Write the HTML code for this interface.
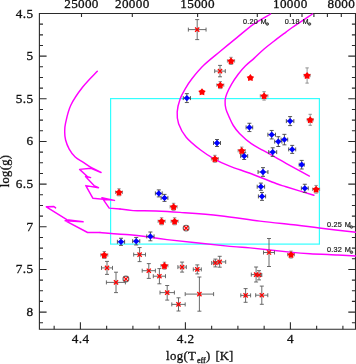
<!DOCTYPE html>
<html><head><meta charset="utf-8"><style>
html,body{margin:0;padding:0;background:#fff;}
svg{display:block;will-change:transform;}
</style></head><body>
<svg width="356" height="364" viewBox="0 0 356 364">
<rect width="356" height="364" fill="#fff"/>
<path d="M39.4,13.5 H355.5 V329.2 H39.4 Z" fill="none" stroke="#2a2a2a" stroke-width="1.1"/>
<path d="M39.4,13.50h7.2 M355.5,13.50h-7.2 M39.4,24.16h3.6 M355.5,24.16h-3.6 M39.4,34.83h3.6 M355.5,34.83h-3.6 M39.4,45.49h3.6 M355.5,45.49h-3.6 M39.4,56.16h7.2 M355.5,56.16h-7.2 M39.4,66.82h3.6 M355.5,66.82h-3.6 M39.4,77.48h3.6 M355.5,77.48h-3.6 M39.4,88.15h3.6 M355.5,88.15h-3.6 M39.4,98.81h7.2 M355.5,98.81h-7.2 M39.4,109.47h3.6 M355.5,109.47h-3.6 M39.4,120.14h3.6 M355.5,120.14h-3.6 M39.4,130.80h3.6 M355.5,130.80h-3.6 M39.4,141.47h7.2 M355.5,141.47h-7.2 M39.4,152.13h3.6 M355.5,152.13h-3.6 M39.4,162.79h3.6 M355.5,162.79h-3.6 M39.4,173.46h3.6 M355.5,173.46h-3.6 M39.4,184.12h7.2 M355.5,184.12h-7.2 M39.4,194.78h3.6 M355.5,194.78h-3.6 M39.4,205.45h3.6 M355.5,205.45h-3.6 M39.4,216.11h3.6 M355.5,216.11h-3.6 M39.4,226.78h7.2 M355.5,226.78h-7.2 M39.4,237.44h3.6 M355.5,237.44h-3.6 M39.4,248.10h3.6 M355.5,248.10h-3.6 M39.4,258.77h3.6 M355.5,258.77h-3.6 M39.4,269.43h7.2 M355.5,269.43h-7.2 M39.4,280.09h3.6 M355.5,280.09h-3.6 M39.4,290.76h3.6 M355.5,290.76h-3.6 M39.4,301.42h3.6 M355.5,301.42h-3.6 M39.4,312.09h7.2 M355.5,312.09h-7.2 M39.4,322.75h3.6 M355.5,322.75h-3.6 M54.15,329.2v-3.5 M80.40,329.2v-7.0 M106.65,329.2v-3.5 M132.90,329.2v-3.5 M159.15,329.2v-3.5 M185.40,329.2v-7.0 M211.65,329.2v-3.5 M237.90,329.2v-3.5 M264.15,329.2v-3.5 M290.40,329.2v-7.0 M316.65,329.2v-3.5 M342.90,329.2v-3.5 M81.50,13.5v3.4 M132.30,13.5v3.4 M197.60,13.5v3.4 M257.30,13.5v3.4 M290.40,13.5v3.4 M302.00,13.5v3.4 M313.90,13.5v3.4 M327.40,13.5v3.4 M341.30,13.5v3.4" fill="none" stroke="#2a2a2a" stroke-width="1.1"/>
<text x="33.7" y="17.5" font-family='"Liberation Serif", serif' font-size="13.2" text-anchor="end" fill="#111" stroke="#111" stroke-width="0.3" letter-spacing="0.5">4.5</text>
<text x="33.7" y="60.155" font-family='"Liberation Serif", serif' font-size="13.2" text-anchor="end" fill="#111" stroke="#111" stroke-width="0.3" letter-spacing="0.5">5</text>
<text x="33.7" y="102.81" font-family='"Liberation Serif", serif' font-size="13.2" text-anchor="end" fill="#111" stroke="#111" stroke-width="0.3" letter-spacing="0.5">5.5</text>
<text x="33.7" y="145.465" font-family='"Liberation Serif", serif' font-size="13.2" text-anchor="end" fill="#111" stroke="#111" stroke-width="0.3" letter-spacing="0.5">6</text>
<text x="33.7" y="188.12" font-family='"Liberation Serif", serif' font-size="13.2" text-anchor="end" fill="#111" stroke="#111" stroke-width="0.3" letter-spacing="0.5">6.5</text>
<text x="33.7" y="230.775" font-family='"Liberation Serif", serif' font-size="13.2" text-anchor="end" fill="#111" stroke="#111" stroke-width="0.3" letter-spacing="0.5">7</text>
<text x="33.7" y="273.43" font-family='"Liberation Serif", serif' font-size="13.2" text-anchor="end" fill="#111" stroke="#111" stroke-width="0.3" letter-spacing="0.5">7.5</text>
<text x="33.7" y="316.08500000000004" font-family='"Liberation Serif", serif' font-size="13.2" text-anchor="end" fill="#111" stroke="#111" stroke-width="0.3" letter-spacing="0.5">8</text>
<text x="80.65" y="343.4" font-family='"Liberation Serif", serif' font-size="13.2" text-anchor="middle" fill="#111" stroke="#111" stroke-width="0.3" letter-spacing="0.5">4.4</text>
<text x="185.6500000000001" y="343.4" font-family='"Liberation Serif", serif' font-size="13.2" text-anchor="middle" fill="#111" stroke="#111" stroke-width="0.3" letter-spacing="0.5">4.2</text>
<text x="290.6500000000002" y="343.4" font-family='"Liberation Serif", serif' font-size="13.2" text-anchor="middle" fill="#111" stroke="#111" stroke-width="0.3" letter-spacing="0.5">4</text>
<text x="81.5" y="8.0" font-family='"Liberation Serif", serif' font-size="13.2" text-anchor="middle" fill="#111" stroke="#111" stroke-width="0.3" letter-spacing="0.3">25000</text>
<text x="132.3" y="8.0" font-family='"Liberation Serif", serif' font-size="13.2" text-anchor="middle" fill="#111" stroke="#111" stroke-width="0.3" letter-spacing="0.3">20000</text>
<text x="197.6" y="8.0" font-family='"Liberation Serif", serif' font-size="13.2" text-anchor="middle" fill="#111" stroke="#111" stroke-width="0.3" letter-spacing="0.3">15000</text>
<text x="290.3" y="8.0" font-family='"Liberation Serif", serif' font-size="13.2" text-anchor="middle" fill="#111" stroke="#111" stroke-width="0.3" letter-spacing="0.3">10000</text>
<text x="341.3" y="8.0" font-family='"Liberation Serif", serif' font-size="13.2" text-anchor="middle" fill="#111" stroke="#111" stroke-width="0.3" letter-spacing="0.3">8000</text>
<text x="166.0" y="360.2" font-family='"Liberation Serif", serif' font-size="12.8" fill="#111" stroke="#111" stroke-width="0.3" letter-spacing="0.35">log(T</text>
<text x="196.9" y="363.0" font-family='"Liberation Serif", serif' font-size="8.2" fill="#111" stroke="#111" stroke-width="0.3">eff</text>
<text x="206.0" y="360.2" font-family='"Liberation Serif", serif' font-size="12.8" fill="#111" stroke="#111" stroke-width="0.3">)</text>
<text x="215.6" y="360.2" font-family='"Liberation Serif", serif' font-size="12.8" fill="#111" stroke="#111" stroke-width="0.3" letter-spacing="0">[K]</text>
<text transform="translate(9.4,171.0) rotate(-90)" x="0" y="0" font-family='"Liberation Serif", serif' font-size="12.5" text-anchor="middle" fill="#111" stroke="#111" stroke-width="0.3" letter-spacing="0.35">log(g)</text>
<rect x="110.6" y="98.6" width="208.8" height="145.5" fill="none" stroke="#33ffff" stroke-width="1.2"/>
<path d="M270.60,14.00 C267.78,15.68 259.32,20.17 253.70,24.10 C248.08,28.03 242.42,33.12 236.90,37.60 C231.38,42.08 226.13,46.38 220.60,51.00 C215.07,55.62 208.48,60.67 203.70,65.30 C198.92,69.93 194.98,74.87 191.90,78.80 C188.82,82.73 187.17,85.53 185.20,88.90 C183.23,92.27 181.43,95.17 180.10,99.00 C178.77,102.83 177.45,107.78 177.20,111.90 C176.95,116.02 177.10,119.48 178.60,123.70 C180.10,127.92 182.53,132.82 186.20,137.20 C189.87,141.58 195.82,146.32 200.60,150.00 C205.38,153.68 210.05,156.62 214.90,159.30 C219.75,161.98 223.63,163.68 229.70,166.10 C235.77,168.52 243.58,170.90 251.30,173.80 C259.02,176.70 270.22,181.33 276.00,183.50 C281.78,185.67 279.68,184.85 286.00,186.80 C292.32,188.75 309.25,193.80 313.90,195.20" fill="none" stroke="#ff00ff" stroke-width="1.45" stroke-linecap="round"/>
<path d="M312.40,14.00 C309.03,16.25 296.60,24.48 292.20,27.50 C287.80,30.52 289.05,29.82 286.00,32.10 C282.95,34.38 277.55,38.38 273.90,41.20 C270.25,44.02 267.37,46.18 264.10,49.00 C260.83,51.82 257.43,55.27 254.30,58.10 C251.17,60.93 247.98,63.32 245.30,66.00 C242.62,68.68 240.48,71.18 238.20,74.20 C235.92,77.22 233.52,80.80 231.60,84.10 C229.68,87.40 227.78,91.25 226.70,94.00 C225.62,96.75 225.23,98.13 225.10,100.60 C224.97,103.07 225.22,106.05 225.90,108.80 C226.58,111.55 227.97,114.32 229.20,117.10 C230.43,119.88 231.58,122.77 233.30,125.50 C235.02,128.23 236.50,130.47 239.50,133.50 C242.50,136.53 247.37,140.88 251.30,143.70 C255.23,146.52 258.98,148.08 263.10,150.40 C267.22,152.72 272.18,155.43 276.00,157.60 C279.82,159.77 280.43,160.32 286.00,163.40 C291.57,166.48 305.50,173.98 309.40,176.10" fill="none" stroke="#ff00ff" stroke-width="1.45" stroke-linecap="round"/>
<path d="M97.30,71.20 C94.87,73.83 87.12,81.33 82.70,87.00 C78.28,92.67 73.65,99.22 70.80,105.20 C67.95,111.18 66.62,118.45 65.60,122.90 C64.58,127.35 64.70,129.05 64.70,131.90 C64.70,134.75 64.85,137.13 65.60,140.00 C66.35,142.87 67.60,146.27 69.20,149.10 C70.80,151.93 72.83,154.80 75.20,157.00 C77.57,159.20 80.77,160.55 83.40,162.30 C86.03,164.05 89.73,166.63 91.00,167.50" fill="none" stroke="#ff00ff" stroke-width="1.45" stroke-linecap="round"/>
<path d="M91.00,167.50 L101.10,172.50 L91.00,168.30 L79.60,169.40 L87.60,176.70 L90.60,177.60 L85.50,176.50 L94.00,185.60 L98.50,187.70 L85.80,185.60 L92.80,198.20 L114.50,200.40 L101.90,197.70 L109.20,208.10 L120.00,209.00" fill="none" stroke="#ff00ff" stroke-width="1.45" stroke-linejoin="round" stroke-linecap="round"/>
<path d="M120.00,209.00 C122.18,209.27 127.10,210.27 133.10,210.60 C139.10,210.93 148.18,210.70 156.00,211.00 C163.82,211.30 169.33,211.62 180.00,212.40 C190.67,213.18 206.67,214.25 220.00,215.70 C233.33,217.15 247.33,219.55 260.00,221.10 C272.67,222.65 286.12,223.85 296.00,225.00 C305.88,226.15 309.30,226.80 319.30,228.00 C329.30,229.20 349.88,231.50 356.00,232.20" fill="none" stroke="#ff00ff" stroke-width="1.45" stroke-linecap="round"/>
<path d="M55.60,207.90 L53.90,206.50 L46.30,206.80 L66.80,219.60 L83.10,221.80 L65.10,220.70 L87.60,232.50 L100.00,232.50" fill="none" stroke="#ff00ff" stroke-width="1.45" stroke-linejoin="round" stroke-linecap="round"/>
<path d="M100.00,232.50 C104.95,232.88 121.93,234.10 129.70,234.80 C137.47,235.50 140.38,235.90 146.60,236.70 C152.82,237.50 153.10,237.98 167.00,239.60 C180.90,241.22 216.17,245.02 230.00,246.40 C243.83,247.78 240.00,246.95 250.00,247.90 C260.00,248.85 280.00,251.13 290.00,252.10 C300.00,253.07 302.00,253.22 310.00,253.70 C318.00,254.18 330.33,254.62 338.00,255.00 C345.67,255.38 353.00,255.83 356.00,256.00" fill="none" stroke="#ff00ff" stroke-width="1.45" stroke-linecap="round"/>
<text x="242.9" y="24.2" font-family='"Liberation Sans", sans-serif' font-size="7.3" fill="#222" stroke="#222" stroke-width="0.2" letter-spacing="0.2">0.20</text>
<text x="260.5" y="24.2" font-family='"Liberation Sans", sans-serif' font-size="7.3" fill="#222" stroke="#222" stroke-width="0.2" letter-spacing="0.2">M</text>
<circle cx="267.3" cy="24.0" r="1.3" fill="#888" stroke="#333" stroke-width="0.8"/>
<text x="284.8" y="24.2" font-family='"Liberation Sans", sans-serif' font-size="7.3" fill="#222" stroke="#222" stroke-width="0.2" letter-spacing="0.2">0.18</text>
<text x="302.6" y="24.2" font-family='"Liberation Sans", sans-serif' font-size="7.3" fill="#222" stroke="#222" stroke-width="0.2" letter-spacing="0.2">M</text>
<circle cx="309.5" cy="24.0" r="1.3" fill="#888" stroke="#333" stroke-width="0.8"/>
<text x="327.0" y="227.0" font-family='"Liberation Sans", sans-serif' font-size="7.3" fill="#222" stroke="#222" stroke-width="0.2" letter-spacing="0.2">0.25</text>
<text x="344.7" y="227.0" font-family='"Liberation Sans", sans-serif' font-size="7.3" fill="#222" stroke="#222" stroke-width="0.2" letter-spacing="0.2">M</text>
<circle cx="351.5" cy="227.0" r="1.3" fill="#888" stroke="#333" stroke-width="0.8"/>
<text x="327.0" y="252.2" font-family='"Liberation Sans", sans-serif' font-size="7.3" fill="#222" stroke="#222" stroke-width="0.2" letter-spacing="0.2">0.32</text>
<text x="344.7" y="252.2" font-family='"Liberation Sans", sans-serif' font-size="7.3" fill="#222" stroke="#222" stroke-width="0.2" letter-spacing="0.2">M</text>
<circle cx="351.5" cy="252.2" r="1.3" fill="#888" stroke="#333" stroke-width="0.8"/>
<path d="M188.35,29.60H206.05 M197.20,19.60V39.60 M188.35,27.60v4.00 M206.05,27.60v4.00 M195.20,19.60h4.00 M195.20,39.60h4.00" fill="none" stroke="#5a5a5a" stroke-width="0.9"/>
<path d="M214.70,71.10H225.30 M220.00,65.40V76.80 M214.70,69.10v4.00 M225.30,69.10v4.00 M218.00,65.40h4.00 M218.00,76.80h4.00" fill="none" stroke="#5a5a5a" stroke-width="0.9"/>
<path d="M133.70,254.60H145.50 M139.60,247.55V261.60 M133.70,252.60v4.00 M145.50,252.60v4.00 M137.60,247.55h4.00 M137.60,261.60h4.00" fill="none" stroke="#5a5a5a" stroke-width="0.9"/>
<path d="M101.50,267.90H112.50 M107.00,261.40V274.40 M101.50,265.90v4.00 M112.50,265.90v4.00 M105.00,261.40h4.00 M105.00,274.40h4.00" fill="none" stroke="#5a5a5a" stroke-width="0.9"/>
<path d="M142.20,270.70H155.40 M148.80,263.60V278.40 M142.20,268.70v4.00 M155.40,268.70v4.00 M146.80,263.60h4.00 M146.80,278.40h4.00" fill="none" stroke="#5a5a5a" stroke-width="0.9"/>
<path d="M153.30,276.20H165.50 M159.40,268.60V283.80 M153.30,274.20v4.00 M165.50,274.20v4.00 M157.40,268.60h4.00 M157.40,283.80h4.00" fill="none" stroke="#5a5a5a" stroke-width="0.9"/>
<path d="M106.40,282.40H125.40 M116.00,272.20V292.60 M106.40,280.40v4.00 M125.40,280.40v4.00 M114.00,272.20h4.00 M114.00,292.60h4.00" fill="none" stroke="#5a5a5a" stroke-width="0.9"/>
<circle cx="125.9" cy="279.0" r="2.9" fill="none" stroke="#666" stroke-width="1.1"/>
<circle cx="186.1" cy="228.1" r="2.9" fill="none" stroke="#666" stroke-width="1.1"/>
<path d="M177.90,267.10H186.30 M182.10,262.10V272.10 M177.90,265.10v4.00 M186.30,265.10v4.00 M180.10,262.10h4.00 M180.10,272.10h4.00" fill="none" stroke="#5a5a5a" stroke-width="0.9"/>
<path d="M193.30,269.40H201.30 M197.30,264.90V273.90 M193.30,267.40v4.00 M201.30,267.40v4.00 M195.30,264.90h4.00 M195.30,273.90h4.00" fill="none" stroke="#5a5a5a" stroke-width="0.9"/>
<path d="M211.70,263.00H219.10 M215.40,259.10V266.90 M211.70,261.00v4.00 M219.10,261.00v4.00 M213.40,259.10h4.00 M213.40,266.90h4.00" fill="none" stroke="#5a5a5a" stroke-width="0.9"/>
<path d="M213.70,261.90H225.70 M219.70,256.30V267.20 M213.70,259.90v4.00 M225.70,259.90v4.00 M217.70,256.30h4.00 M217.70,267.20h4.00" fill="none" stroke="#5a5a5a" stroke-width="0.9"/>
<path d="M185.20,294.10H213.60 M199.40,277.00V311.20 M185.20,292.10v4.00 M213.60,292.10v4.00 M197.40,277.00h4.00 M197.40,311.20h4.00" fill="none" stroke="#5a5a5a" stroke-width="0.9"/>
<path d="M160.00,292.60H174.40 M167.20,285.50V300.10 M160.00,290.60v4.00 M174.40,290.60v4.00 M165.20,285.50h4.00 M165.20,300.10h4.00" fill="none" stroke="#5a5a5a" stroke-width="0.9"/>
<path d="M171.80,304.40H185.20 M178.50,297.80V311.00 M171.80,302.40v4.00 M185.20,302.40v4.00 M176.50,297.80h4.00 M176.50,311.00h4.00" fill="none" stroke="#5a5a5a" stroke-width="0.9"/>
<path d="M263.50,252.50H274.50 M269.00,238.50V266.50 M263.50,250.50v4.00 M274.50,250.50v4.00 M267.00,238.50h4.00 M267.00,266.50h4.00" fill="none" stroke="#5a5a5a" stroke-width="0.9"/>
<path d="M251.30,274.60H260.90 M256.10,267.00V282.00 M251.30,272.60v4.00 M260.90,272.60v4.00 M254.10,267.00h4.00 M254.10,282.00h4.00" fill="none" stroke="#5a5a5a" stroke-width="0.9"/>
<path d="M256.20,275.00H261.80 M259.00,270.70V279.90 M256.20,273.00v4.00 M261.80,273.00v4.00 M257.00,270.70h4.00 M257.00,279.90h4.00" fill="none" stroke="#5a5a5a" stroke-width="0.9"/>
<path d="M240.80,295.40H250.60 M245.60,288.60V302.30 M240.80,293.40v4.00 M250.60,293.40v4.00 M243.60,288.60h4.00 M243.60,302.30h4.00" fill="none" stroke="#5a5a5a" stroke-width="0.9"/>
<path d="M255.70,295.20H267.80 M261.80,286.10V304.30 M255.70,293.20v4.00 M267.80,293.20v4.00 M259.80,286.10h4.00 M259.80,304.30h4.00" fill="none" stroke="#5a5a5a" stroke-width="0.9"/>
<path d="M227.40,60.90H234.60 M231.00,57.30V64.50 M227.40,59.20v3.40 M234.60,59.20v3.40 M229.30,57.30h3.40 M229.30,64.50h3.40" fill="none" stroke="#888" stroke-width="0.9"/>
<path d="M216.80,85.10H223.80 M220.30,81.60V88.60 M216.80,83.40v3.40 M223.80,83.40v3.40 M218.60,81.60h3.40 M218.60,88.60h3.40" fill="none" stroke="#888" stroke-width="0.9"/>
<path d="M304.10,75.50H310.10 M307.10,67.90V83.10 M304.10,73.80v3.40 M310.10,73.80v3.40 M305.40,67.90h3.40 M305.40,83.10h3.40" fill="none" stroke="#888" stroke-width="0.9"/>
<path d="M260.30,95.90H267.90 M264.10,91.70V100.10 M260.30,94.20v3.40 M267.90,94.20v3.40 M262.40,91.70h3.40 M262.40,100.10h3.40" fill="none" stroke="#888" stroke-width="0.9"/>
<path d="M307.20,119.80H313.20 M310.20,114.30V125.30 M307.20,118.10v3.40 M313.20,118.10v3.40 M308.50,114.30h3.40 M308.50,125.30h3.40" fill="none" stroke="#888" stroke-width="0.9"/>
<path d="M238.10,150.70H245.30 M241.70,147.10V154.30 M238.10,149.00v3.40 M245.30,149.00v3.40 M240.00,147.10h3.40 M240.00,154.30h3.40" fill="none" stroke="#888" stroke-width="0.9"/>
<path d="M211.40,158.80H218.40 M214.90,155.30V162.30 M211.40,157.10v3.40 M218.40,157.10v3.40 M213.20,155.30h3.40 M213.20,162.30h3.40" fill="none" stroke="#888" stroke-width="0.9"/>
<path d="M312.60,189.30H319.60 M316.10,185.45V193.15 M312.60,187.60v3.40 M319.60,187.60v3.40 M314.40,185.45h3.40 M314.40,193.15h3.40" fill="none" stroke="#888" stroke-width="0.9"/>
<path d="M115.50,192.30H122.50 M119.00,188.80V195.80 M115.50,190.60v3.40 M122.50,190.60v3.40 M117.30,188.80h3.40 M117.30,195.80h3.40" fill="none" stroke="#888" stroke-width="0.9"/>
<path d="M170.10,206.80H177.10 M173.60,203.30V210.30 M170.10,205.10v3.40 M177.10,205.10v3.40 M171.90,203.30h3.40 M171.90,210.30h3.40" fill="none" stroke="#888" stroke-width="0.9"/>
<path d="M158.10,221.30H165.10 M161.60,217.80V224.80 M158.10,219.60v3.40 M165.10,219.60v3.40 M159.90,217.80h3.40 M159.90,224.80h3.40" fill="none" stroke="#888" stroke-width="0.9"/>
<path d="M171.10,221.30H178.10 M174.60,217.80V224.80 M171.10,219.60v3.40 M178.10,219.60v3.40 M172.90,217.80h3.40 M172.90,224.80h3.40" fill="none" stroke="#888" stroke-width="0.9"/>
<path d="M100.80,255.00H107.80 M104.30,251.50V258.50 M100.80,253.30v3.40 M107.80,253.30v3.40 M102.60,251.50h3.40 M102.60,258.50h3.40" fill="none" stroke="#888" stroke-width="0.9"/>
<path d="M160.95,265.70H167.95 M164.45,262.20V269.20 M160.95,264.00v3.40 M167.95,264.00v3.40 M162.75,262.20h3.40 M162.75,269.20h3.40" fill="none" stroke="#888" stroke-width="0.9"/>
<path d="M287.50,254.60H294.50 M291.00,251.10V258.10 M287.50,252.90v3.40 M294.50,252.90v3.40 M289.30,251.10h3.40 M289.30,258.10h3.40" fill="none" stroke="#888" stroke-width="0.9"/>
<path d="M183.25,98.10H190.45 M186.85,93.65V102.55 M183.25,96.10v4.00 M190.45,96.10v4.00 M184.85,93.65h4.00 M184.85,102.55h4.00" fill="none" stroke="#444" stroke-width="0.9"/>
<path d="M213.50,143.00H220.50 M217.00,139.50V146.50 M213.50,141.00v4.00 M220.50,141.00v4.00 M215.00,139.50h4.00 M215.00,146.50h4.00" fill="none" stroke="#444" stroke-width="0.9"/>
<path d="M246.10,127.40H252.70 M249.40,123.25V131.55 M246.10,125.40v4.00 M252.70,125.40v4.00 M247.40,123.25h4.00 M247.40,131.55h4.00" fill="none" stroke="#444" stroke-width="0.9"/>
<path d="M286.35,121.10H293.85 M290.10,116.60V125.60 M286.35,119.10v4.00 M293.85,119.10v4.00 M288.10,116.60h4.00 M288.10,125.60h4.00" fill="none" stroke="#444" stroke-width="0.9"/>
<path d="M267.90,134.70H275.50 M271.70,130.45V138.95 M267.90,132.70v4.00 M275.50,132.70v4.00 M269.70,130.45h4.00 M269.70,138.95h4.00" fill="none" stroke="#444" stroke-width="0.9"/>
<path d="M274.70,141.60H281.90 M278.30,136.70V146.50 M274.70,139.60v4.00 M281.90,139.60v4.00 M276.30,136.70h4.00 M276.30,146.50h4.00" fill="none" stroke="#444" stroke-width="0.9"/>
<path d="M281.10,139.60H287.70 M284.40,134.35V144.85 M281.10,137.60v4.00 M287.70,137.60v4.00 M282.40,134.35h4.00 M282.40,144.85h4.00" fill="none" stroke="#444" stroke-width="0.9"/>
<path d="M288.70,149.40H295.70 M292.20,145.40V153.40 M288.70,147.40v4.00 M295.70,147.40v4.00 M290.20,145.40h4.00 M290.20,153.40h4.00" fill="none" stroke="#444" stroke-width="0.9"/>
<path d="M268.70,152.10H276.70 M272.70,147.80V156.40 M268.70,150.10v4.00 M276.70,150.10v4.00 M270.70,147.80h4.00 M270.70,156.40h4.00" fill="none" stroke="#444" stroke-width="0.9"/>
<path d="M240.70,156.10H247.70 M244.20,152.70V159.50 M240.70,154.10v4.00 M247.70,154.10v4.00 M242.20,152.70h4.00 M242.20,159.50h4.00" fill="none" stroke="#444" stroke-width="0.9"/>
<path d="M299.20,164.70H304.20 M301.70,160.40V169.00 M299.20,162.70v4.00 M304.20,162.70v4.00 M299.70,160.40h4.00 M299.70,169.00h4.00" fill="none" stroke="#444" stroke-width="0.9"/>
<path d="M258.05,172.00H267.95 M263.00,167.65V176.35 M258.05,170.00v4.00 M267.95,170.00v4.00 M261.00,167.65h4.00 M261.00,176.35h4.00" fill="none" stroke="#444" stroke-width="0.9"/>
<path d="M301.35,188.30H308.25 M304.80,184.25V192.35 M301.35,186.30v4.00 M308.25,186.30v4.00 M302.80,184.25h4.00 M302.80,192.35h4.00" fill="none" stroke="#444" stroke-width="0.9"/>
<path d="M257.20,186.70H264.60 M260.90,183.10V190.30 M257.20,184.70v4.00 M264.60,184.70v4.00 M258.90,183.10h4.00 M258.90,190.30h4.00" fill="none" stroke="#444" stroke-width="0.9"/>
<path d="M258.40,196.40H265.60 M262.00,192.45V200.35 M258.40,194.40v4.00 M265.60,194.40v4.00 M260.00,192.45h4.00 M260.00,200.35h4.00" fill="none" stroke="#444" stroke-width="0.9"/>
<path d="M155.40,193.40H162.20 M158.80,189.90V196.90 M155.40,191.40v4.00 M162.20,191.40v4.00 M156.80,189.90h4.00 M156.80,196.90h4.00" fill="none" stroke="#444" stroke-width="0.9"/>
<path d="M161.10,197.90H167.90 M164.50,194.40V201.40 M161.10,195.90v4.00 M167.90,195.90v4.00 M162.50,194.40h4.00 M162.50,201.40h4.00" fill="none" stroke="#444" stroke-width="0.9"/>
<path d="M146.75,236.40H154.05 M150.40,232.00V240.80 M146.75,234.40v4.00 M154.05,234.40v4.00 M148.40,232.00h4.00 M148.40,240.80h4.00" fill="none" stroke="#444" stroke-width="0.9"/>
<path d="M117.40,241.80H124.60 M121.00,238.25V245.35 M117.40,239.80v4.00 M124.60,239.80v4.00 M119.00,238.25h4.00 M119.00,245.35h4.00" fill="none" stroke="#444" stroke-width="0.9"/>
<path d="M132.65,241.20H139.75 M136.20,237.45V244.95 M132.65,239.20v4.00 M139.75,239.20v4.00 M134.20,237.45h4.00 M134.20,244.95h4.00" fill="none" stroke="#444" stroke-width="0.9"/>
<path d="M195.1,27.5L199.29999999999998,31.700000000000003M195.1,31.700000000000003L199.29999999999998,27.5" stroke="#ff0000" stroke-width="1.25" fill="none"/>
<path d="M217.9,69.0L222.1,73.19999999999999M217.9,73.19999999999999L222.1,69.0" stroke="#ff0000" stroke-width="1.25" fill="none"/>
<path d="M137.5,252.5L141.7,256.7M137.5,256.7L141.7,252.5" stroke="#ff0000" stroke-width="1.25" fill="none"/>
<path d="M104.9,265.79999999999995L109.1,270.0M104.9,270.0L109.1,265.79999999999995" stroke="#ff0000" stroke-width="1.25" fill="none"/>
<path d="M146.70000000000002,268.59999999999997L150.9,272.8M146.70000000000002,272.8L150.9,268.59999999999997" stroke="#ff0000" stroke-width="1.25" fill="none"/>
<path d="M157.3,274.09999999999997L161.5,278.3M157.3,278.3L161.5,274.09999999999997" stroke="#ff0000" stroke-width="1.25" fill="none"/>
<path d="M113.9,280.29999999999995L118.1,284.5M113.9,284.5L118.1,280.29999999999995" stroke="#ff0000" stroke-width="1.25" fill="none"/>
<path d="M123.80000000000001,276.9L128.0,281.1M123.80000000000001,281.1L128.0,276.9" stroke="#ff0000" stroke-width="1.25" fill="none"/>
<path d="M184.0,226.0L188.2,230.2M184.0,230.2L188.2,226.0" stroke="#ff0000" stroke-width="1.25" fill="none"/>
<path d="M180.0,265.0L184.2,269.20000000000005M180.0,269.20000000000005L184.2,265.0" stroke="#ff0000" stroke-width="1.25" fill="none"/>
<path d="M195.20000000000002,267.29999999999995L199.4,271.5M195.20000000000002,271.5L199.4,267.29999999999995" stroke="#ff0000" stroke-width="1.25" fill="none"/>
<path d="M213.3,260.9L217.5,265.1M213.3,265.1L217.5,260.9" stroke="#ff0000" stroke-width="1.25" fill="none"/>
<path d="M217.6,259.79999999999995L221.79999999999998,264.0M217.6,264.0L221.79999999999998,259.79999999999995" stroke="#ff0000" stroke-width="1.25" fill="none"/>
<path d="M197.3,292.0L201.5,296.20000000000005M197.3,296.20000000000005L201.5,292.0" stroke="#ff0000" stroke-width="1.25" fill="none"/>
<path d="M165.1,290.5L169.29999999999998,294.70000000000005M165.1,294.70000000000005L169.29999999999998,290.5" stroke="#ff0000" stroke-width="1.25" fill="none"/>
<path d="M176.4,302.29999999999995L180.6,306.5M176.4,306.5L180.6,302.29999999999995" stroke="#ff0000" stroke-width="1.25" fill="none"/>
<path d="M266.9,250.4L271.1,254.6M266.9,254.6L271.1,250.4" stroke="#ff0000" stroke-width="1.25" fill="none"/>
<path d="M254.00000000000003,272.5L258.20000000000005,276.70000000000005M254.00000000000003,276.70000000000005L258.20000000000005,272.5" stroke="#ff0000" stroke-width="1.25" fill="none"/>
<path d="M256.9,272.9L261.1,277.1M256.9,277.1L261.1,272.9" stroke="#ff0000" stroke-width="1.25" fill="none"/>
<path d="M243.5,293.29999999999995L247.7,297.5M243.5,297.5L247.7,293.29999999999995" stroke="#ff0000" stroke-width="1.25" fill="none"/>
<path d="M259.7,293.09999999999997L263.90000000000003,297.3M259.7,297.3L263.90000000000003,293.09999999999997" stroke="#ff0000" stroke-width="1.25" fill="none"/>
<polygon points="231.00,57.30 232.44,59.22 234.71,59.99 233.33,61.96 233.29,64.36 231.00,63.65 228.71,64.36 228.67,61.96 227.29,59.99 229.56,59.22" fill="#ff0000"/>
<polygon points="220.30,81.50 221.74,83.42 224.01,84.19 222.63,86.16 222.59,88.56 220.30,87.85 218.01,88.56 217.97,86.16 216.59,84.19 218.86,83.42" fill="#ff0000"/>
<polygon points="202.00,88.20 203.44,90.12 205.71,90.89 204.33,92.86 204.29,95.26 202.00,94.55 199.71,95.26 199.67,92.86 198.29,90.89 200.56,90.12" fill="#ff0000"/>
<polygon points="250.40,74.00 251.84,75.92 254.11,76.69 252.73,78.66 252.69,81.06 250.40,80.35 248.11,81.06 248.07,78.66 246.69,76.69 248.96,75.92" fill="#ff0000"/>
<polygon points="307.10,71.90 308.54,73.82 310.81,74.59 309.43,76.56 309.39,78.96 307.10,78.25 304.81,78.96 304.77,76.56 303.39,74.59 305.66,73.82" fill="#ff0000"/>
<polygon points="264.10,92.30 265.54,94.22 267.81,94.99 266.43,96.96 266.39,99.36 264.10,98.65 261.81,99.36 261.77,96.96 260.39,94.99 262.66,94.22" fill="#ff0000"/>
<polygon points="310.20,116.20 311.64,118.12 313.91,118.89 312.53,120.86 312.49,123.26 310.20,122.55 307.91,123.26 307.87,120.86 306.49,118.89 308.76,118.12" fill="#ff0000"/>
<polygon points="241.70,147.10 243.14,149.02 245.41,149.79 244.03,151.76 243.99,154.16 241.70,153.45 239.41,154.16 239.37,151.76 237.99,149.79 240.26,149.02" fill="#ff0000"/>
<polygon points="214.90,155.20 216.34,157.12 218.61,157.89 217.23,159.86 217.19,162.26 214.90,161.55 212.61,162.26 212.57,159.86 211.19,157.89 213.46,157.12" fill="#ff0000"/>
<polygon points="316.10,185.70 317.54,187.62 319.81,188.39 318.43,190.36 318.39,192.76 316.10,192.05 313.81,192.76 313.77,190.36 312.39,188.39 314.66,187.62" fill="#ff0000"/>
<polygon points="119.00,188.70 120.44,190.62 122.71,191.39 121.33,193.36 121.29,195.76 119.00,195.05 116.71,195.76 116.67,193.36 115.29,191.39 117.56,190.62" fill="#ff0000"/>
<polygon points="173.60,203.20 175.04,205.12 177.31,205.89 175.93,207.86 175.89,210.26 173.60,209.55 171.31,210.26 171.27,207.86 169.89,205.89 172.16,205.12" fill="#ff0000"/>
<polygon points="161.60,217.70 163.04,219.62 165.31,220.39 163.93,222.36 163.89,224.76 161.60,224.05 159.31,224.76 159.27,222.36 157.89,220.39 160.16,219.62" fill="#ff0000"/>
<polygon points="174.60,217.70 176.04,219.62 178.31,220.39 176.93,222.36 176.89,224.76 174.60,224.05 172.31,224.76 172.27,222.36 170.89,220.39 173.16,219.62" fill="#ff0000"/>
<polygon points="104.30,251.40 105.74,253.32 108.01,254.09 106.63,256.06 106.59,258.46 104.30,257.75 102.01,258.46 101.97,256.06 100.59,254.09 102.86,253.32" fill="#ff0000"/>
<polygon points="164.45,262.10 165.89,264.02 168.16,264.79 166.78,266.76 166.74,269.16 164.45,268.45 162.16,269.16 162.12,266.76 160.74,264.79 163.01,264.02" fill="#ff0000"/>
<polygon points="291.00,251.00 292.44,252.92 294.71,253.69 293.33,255.66 293.29,258.06 291.00,257.35 288.71,258.06 288.67,255.66 287.29,253.69 289.56,252.92" fill="#ff0000"/>
<path d="M186.85,94.94999999999999 L190.0,98.1 L186.85,101.25 L183.7,98.1 Z" fill="#0000ff"/>
<path d="M217.0,139.85 L220.15,143.0 L217.0,146.15 L213.85,143.0 Z" fill="#0000ff"/>
<path d="M249.4,124.25 L252.55,127.4 L249.4,130.55 L246.25,127.4 Z" fill="#0000ff"/>
<path d="M290.1,117.94999999999999 L293.25,121.1 L290.1,124.25 L286.95000000000005,121.1 Z" fill="#0000ff"/>
<path d="M271.7,131.54999999999998 L274.84999999999997,134.7 L271.7,137.85 L268.55,134.7 Z" fill="#0000ff"/>
<path d="M278.3,138.45 L281.45,141.6 L278.3,144.75 L275.15000000000003,141.6 Z" fill="#0000ff"/>
<path d="M284.4,136.45 L287.54999999999995,139.6 L284.4,142.75 L281.25,139.6 Z" fill="#0000ff"/>
<path d="M292.2,146.25 L295.34999999999997,149.4 L292.2,152.55 L289.05,149.4 Z" fill="#0000ff"/>
<path d="M272.7,148.95 L275.84999999999997,152.1 L272.7,155.25 L269.55,152.1 Z" fill="#0000ff"/>
<path d="M244.2,152.95 L247.35,156.1 L244.2,159.25 L241.04999999999998,156.1 Z" fill="#0000ff"/>
<path d="M301.7,161.54999999999998 L304.84999999999997,164.7 L301.7,167.85 L298.55,164.7 Z" fill="#0000ff"/>
<path d="M263.0,168.85 L266.15,172.0 L263.0,175.15 L259.85,172.0 Z" fill="#0000ff"/>
<path d="M304.8,185.15 L307.95,188.3 L304.8,191.45000000000002 L301.65000000000003,188.3 Z" fill="#0000ff"/>
<path d="M260.9,183.54999999999998 L264.04999999999995,186.7 L260.9,189.85 L257.75,186.7 Z" fill="#0000ff"/>
<path d="M262.0,193.25 L265.15,196.4 L262.0,199.55 L258.85,196.4 Z" fill="#0000ff"/>
<path d="M158.8,190.25 L161.95000000000002,193.4 L158.8,196.55 L155.65,193.4 Z" fill="#0000ff"/>
<path d="M164.5,194.75 L167.65,197.9 L164.5,201.05 L161.35,197.9 Z" fill="#0000ff"/>
<path d="M150.4,233.25 L153.55,236.4 L150.4,239.55 L147.25,236.4 Z" fill="#0000ff"/>
<path d="M121.0,238.65 L124.15,241.8 L121.0,244.95000000000002 L117.85,241.8 Z" fill="#0000ff"/>
<path d="M136.2,238.04999999999998 L139.35,241.2 L136.2,244.35 L133.04999999999998,241.2 Z" fill="#0000ff"/>
</svg>
</body></html>
